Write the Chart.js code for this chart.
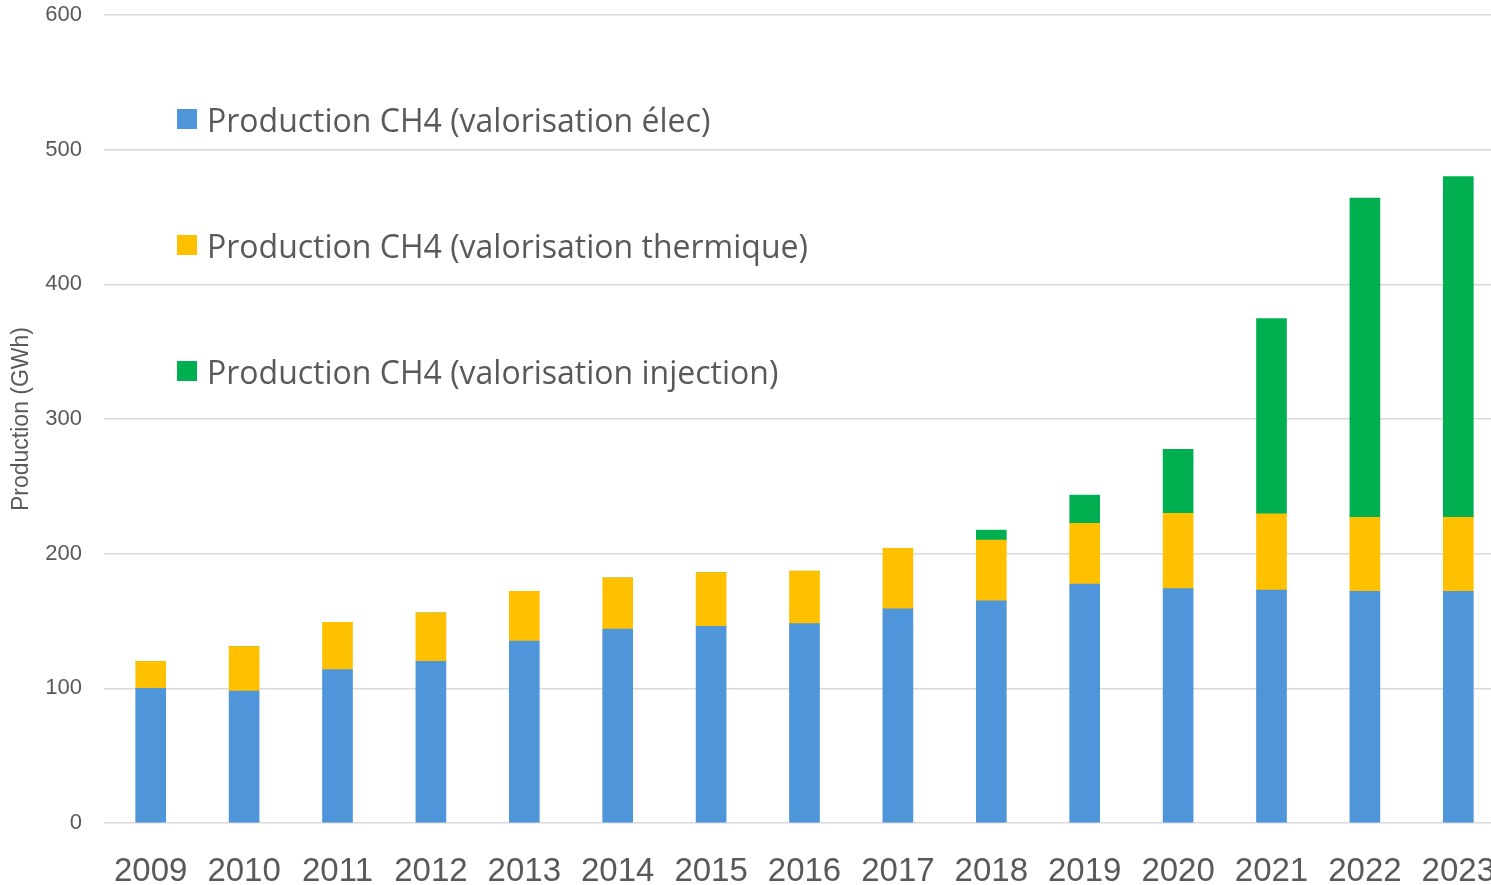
<!DOCTYPE html>
<html lang="fr">
<head>
    <meta charset="UTF-8">
    <title>Production CH4</title>
    <style>
        body {
            margin: 0;
            padding: 0;
            background: #fff;
            overflow: hidden;
        }
        .wrap {
            position: relative;
            width: 1505px;
            height: 885px;
        }
        #legend {
            position: absolute;
            left: 177px;
            top: 0;
            font-family: "Open Sans", "Noto Sans", sans-serif;
            font-size: 32px;
            color: #595959;
        }
        .legend-item {
            position: absolute;
            white-space: nowrap;
            display: flex;
            align-items: center;
            height: 40px;
        }
        .legend-item span.box {
            display: inline-block;
            width: 20px;
            height: 20px;
            margin-right: 10px;
        }
    </style>
</head>
<body>
    <div class="wrap">
        <canvas id="chart" width="1505" height="885"></canvas>
        <div id="legend"></div>
    </div>

    <script src="https://cdn.jsdelivr.net/npm/chart.js"></script>
    <script>
        // Data (GWh)
        const years = ['2009', '2010', '2011', '2012', '2013', '2014', '2015', '2016', '2017', '2018', '2019', '2020', '2021', '2022', '2023'];
        const prodElec = [100, 98, 114, 120, 135, 144, 146, 148, 159, 165, 177.5, 174, 173, 172, 172];
        const prodThermique = [20, 33, 35, 36, 37, 38, 40, 39, 45, 45, 45, 56, 56.5, 55, 55];
        const prodInjection = [0, 0, 0, 0, 0, 0, 0, 0, 0, 7.5, 21, 47.5, 145, 237, 253];

        const seriesLabels = [
            'Production CH4 (valorisation élec)',
            'Production CH4 (valorisation thermique)',
            'Production CH4 (valorisation injection)'
        ];
        const seriesColors = ['#4E95D9', '#FFC000', '#00B050'];

        const textColor = '#595959';
        const gridColor = '#D9D9D9';
        const axisFont = '"Liberation Sans", Arial, sans-serif';

        const ctx = document.getElementById('chart').getContext('2d');
        const chart = new Chart(ctx, {
            type: 'bar',
            data: {
                labels: years,
                datasets: [prodElec, prodThermique, prodInjection].map((d, i) => ({
                    label: seriesLabels[i],
                    data: d,
                    backgroundColor: seriesColors[i],
                    barThickness: 30
                }))
            },
            options: {
                responsive: false,
                animation: false,
                layout: { padding: { top: 15, left: 0, right: 0, bottom: 0 } },
                plugins: {
                    legend: { display: false },
                    tooltip: { enabled: false }
                },
                scales: {
                    x: {
                        stacked: true,
                        grid: { display: false },
                        border: { display: false },
                        ticks: {
                            color: textColor,
                            font: { family: axisFont, size: 33 },
                            padding: 21,
                            maxRotation: 0,
                            autoSkip: false
                        },
                        afterFit: (scale) => {
                            scale.height = 62;
                            scale.paddingLeft = 0;
                            scale.paddingRight = 0;
                        }
                    },
                    y: {
                        stacked: true,
                        min: 0,
                        max: 600,
                        grid: {
                            color: gridColor,
                            lineWidth: 1.5,
                            drawTicks: false
                        },
                        border: { display: false },
                        ticks: {
                            stepSize: 100,
                            color: textColor,
                            padding: 22,
                            font: { family: axisFont, size: 22 }
                        },
                        title: {
                            display: true,
                            text: 'Production (GWh)',
                            color: textColor,
                            font: { family: axisFont, size: 23 },
                            padding: { top: 8, bottom: 0 }
                        },
                        afterFit: (scale) => {
                            scale.width = 104;
                            scale.paddingTop = 0;
                            scale.paddingBottom = 0;
                        }
                    }
                }
            }
        });

        // Legend inside the plot, one item per row
        const legendTops = [120, 246, 372];
        const legend = document.getElementById('legend');
        chart.data.datasets.forEach((ds, i) => {
            const item = document.createElement('div');
            item.className = 'legend-item';
            item.style.top = (legendTops[i] - 21) + 'px';
            item.innerHTML = `<span class="box" style="background:${ds.backgroundColor}"></span>${ds.label}`;
            legend.appendChild(item);
        });
    </script>
</body>
</html>
